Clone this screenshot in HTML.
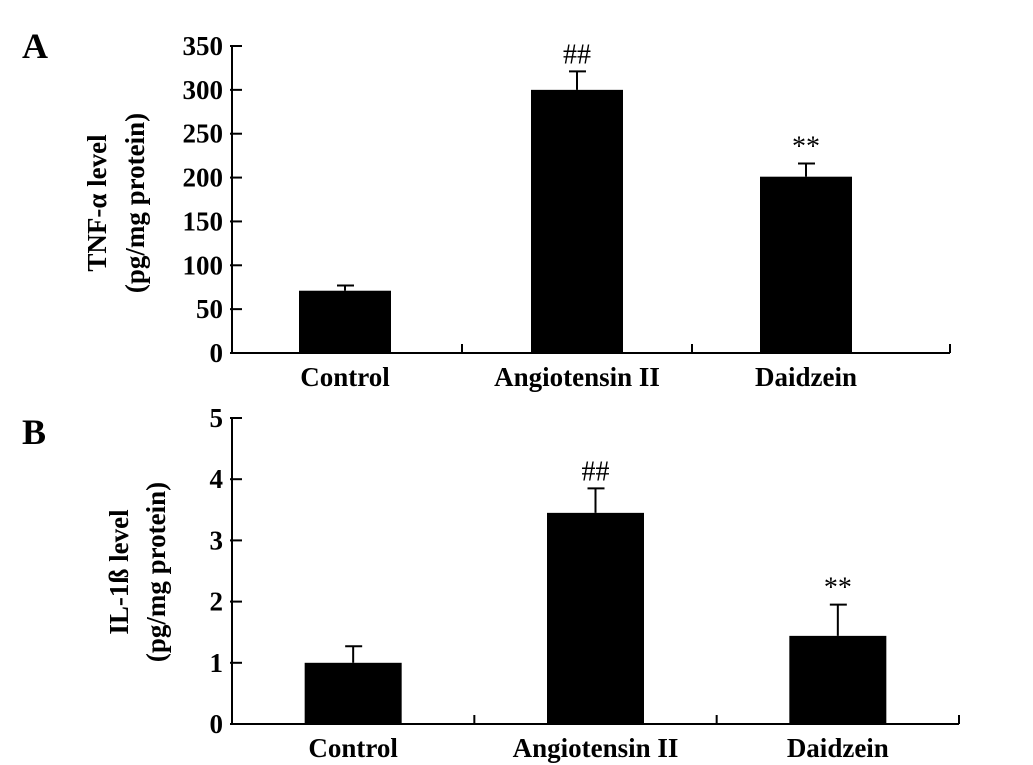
<!DOCTYPE html>
<html><head><meta charset="utf-8"><style>
body{margin:0;background:#fff;}
svg{display:block;font-family:"Liberation Serif",serif;}
</style></head><body>
<svg id="c" width="1033" height="765"></svg>
<script>
const categories=["Control","Angiotensin II","Daidzein"];
const tnfValues=[71,300,201];
const tnfErrors=[77,321,216];
const tnfMarks=["","##","**"];
const tnfTicks=[0,50,100,150,200,250,300,350];
const ilValues=[1.0,3.45,1.44];
const ilErrors=[1.27,3.85,1.95];
const ilMarks=["","##","**"];
const ilTicks=[0,1,2,3,4,5];

const svg=document.getElementById('c');
const NS='http://www.w3.org/2000/svg';
function mk(tag,attrs,parent){const e=document.createElementNS(NS,tag);for(const k in attrs)e.setAttribute(k,attrs[k]);(parent||svg).appendChild(e);return e;}

function panel(cfg){
  const g=mk('g',{});
  
  
  const y=v=>cfg.y0-(v-0)/cfg.max*(cfg.y0-cfg.y1);
  const bandW=(cfg.x1-cfg.x0)/categories.length;
  const xc=i=>cfg.x0+bandW*(i+0.5)+cfg.shift[i];
  const ya=mk('line',{x1:cfg.x0,y1:cfg.y1,x2:cfg.x0,y2:cfg.y0+1,stroke:'#000','stroke-width':2},g);
  
  const xa=mk('line',{x1:cfg.x0-1,y1:cfg.y0,x2:cfg.xEnd,y2:cfg.y0,stroke:'#000','stroke-width':2},g);
  
  mk('line',{x1:cfg.xEnd,y1:cfg.y0,x2:cfg.xEnd,y2:cfg.y0-9,stroke:'#000','stroke-width':2},g);
  for(let i=1;i<categories.length;i++){
    const sx=cfg.x0+bandW*i;
    mk('line',{x1:sx,y1:cfg.y0,x2:sx,y2:cfg.y0-9,stroke:'#000','stroke-width':2},g);
  }
  cfg.ticks.forEach(t=>{
    mk('line',{x1:cfg.x0-2,y1:y(t),x2:cfg.x0+10,y2:y(t),stroke:'#000','stroke-width':2},g);
    const tx=mk('text',{x:cfg.x0-9,y:y(t)+9,'text-anchor':'end','font-size':27,'font-weight':'bold'},g);
    tx.textContent=t;
    
  });
  categories.forEach((c,i)=>{
    const cx=xc(i),v=cfg.vals[i],e=cfg.errs[i];
    mk('line',{x1:cx,y1:y(e),x2:cx,y2:y(v),stroke:'#000','stroke-width':2},g);
    mk('line',{x1:cx-8,y1:y(e),x2:cx+9,y2:y(e),stroke:'#000','stroke-width':2},g);
    const b=mk('rect',{x:cx-cfg.bw/2,y:y(v),width:cfg.bw,height:cfg.y0-y(v),fill:'#000'},g);
    
    
    if(cfg.marks[i]){
      const m=mk('text',{x:cx,y:y(e)-8,'text-anchor':'middle','font-size':28},g);
      m.textContent=cfg.marks[i];
      
    }
    const l=mk('text',{x:cx,y:cfg.y0+33,'text-anchor':'middle','font-size':27,'font-weight':'bold'},g);
    l.textContent=c;
    
  });
  cfg.ylab.forEach((s,i)=>{
    const t=mk('text',{x:0,y:0,'text-anchor':'middle','font-size':27,'font-weight':'bold',transform:`translate(${cfg.labX[i]},${cfg.labY}) rotate(-90)`},g);
    t.textContent=s;
    
  });
  const p=mk('text',{x:22,y:cfg.letterY,'font-size':36,'font-weight':'bold'},g);
  p.textContent=cfg.letter;
  
}
panel({name:'panel-a-tnf',x0:232,x1:922,xEnd:950,y0:353,y1:46,max:350,ticks:tnfTicks,vals:tnfValues,errs:tnfErrors,marks:tnfMarks,bw:92,shift:[-2,0,-1],ylab:['TNF-α level','(pg/mg protein)'],labX:[106,144],labY:203,letter:'A',letterY:58});
panel({name:'panel-b-il1b',x0:232,x1:959,xEnd:959,y0:724,y1:418,max:5,ticks:ilTicks,vals:ilValues,errs:ilErrors,marks:ilMarks,bw:97,shift:[0,0,0],ylab:['IL-1ß level','(pg/mg protein)'],labX:[128,165],labY:572,letter:'B',letterY:444});
</script>
</body></html>
